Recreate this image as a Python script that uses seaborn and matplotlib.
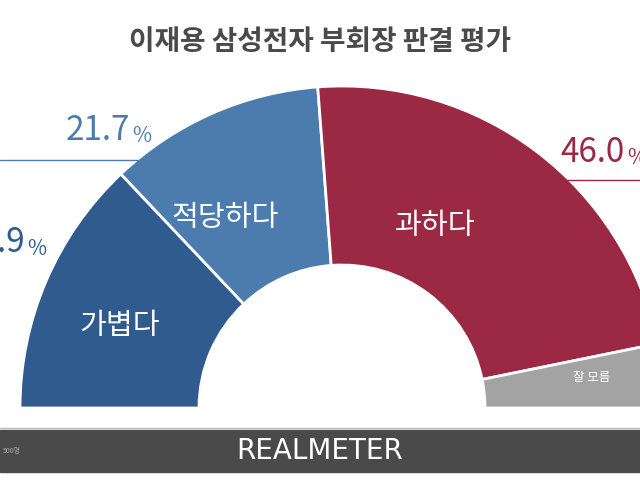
import matplotlib
matplotlib.use("Agg")
import matplotlib.pyplot as plt
import seaborn as sns
from matplotlib.patches import Rectangle

sns.set_theme(style="white")
plt.rcParams['font.family'] = ['Noto Sans CJK KR', 'DejaVu Sans']

categories = ["가볍다", "적당하다", "과하다", "잘 모름"]
values = [25.9, 21.7, 46.0, 6.4]
pct_labels = ["25.9", "21.7", "46.0", ""]
colors = ["#2f5b8e", "#4b7cad", "#9b2944", "#a3a3a3"]

fig = plt.figure(figsize=(6.4, 4.8), dpi=100)
ax = fig.add_axes([0, 0, 1, 1])
cx, cy, R = 342, 408, 322
wedges, _ = ax.pie(values + [sum(values)], colors=colors + ["none"], startangle=180,
                   counterclock=True, center=(cx, cy), radius=R,
                   wedgeprops=dict(width=R - 143, edgecolor="white", linewidth=2))
wedges[-1].set_visible(False)
ax.set_xlim(0, 640); ax.set_ylim(480, 0); ax.set_aspect("auto")
ax.axis("off")

# inside labels
inner = [(120, 326, 21), (225, 218, 21), (435, 226, 21), (592, 378, 9)]
for (x, y, fs), c in zip(inner, categories):
    ax.text(x, y, c, color="white", fontsize=fs, ha="center", va="center")

# percent labels
ax.text(130, 130, pct_labels[1], color="#4b7cad", fontsize=24, ha="right", va="center")
ax.text(132, 136, "%", color="#4b7cad", fontsize=15, ha="left", va="center")
ax.plot([0, 200], [160, 160], color="#4b7cad", lw=1)
ax.text(25, 243, pct_labels[0], color="#2f5b8e", fontsize=24, ha="right", va="center")
ax.text(27, 249, "%", color="#2f5b8e", fontsize=15, ha="left", va="center")
ax.text(625, 152, pct_labels[2], color="#9b2944", fontsize=24, ha="right", va="center")
ax.text(627, 158, "%", color="#9b2944", fontsize=15, ha="left", va="center")
ax.plot([540, 640], [180, 180], color="#9b2944", lw=1)

# title
ax.text(320, 42, "이재용 삼성전자 부회장 판결 평가", color="#4a4a4a", fontsize=20,
        fontweight="bold", ha="center", va="center")

# bottom bar
ax.add_patch(Rectangle((0, 430), 640, 42, color="#4a4a4a"))
ax.plot([0, 640], [428, 428], color="#bbbbbb", lw=1)
ax.text(320, 451, "REALMETER", color="white", fontsize=20, ha="center", va="center",
        family="Liberation Sans Narrow")
ax.text(3, 451, "500명", color="#aaaaaa", fontsize=5, ha="left", va="center")

fig.savefig("out.png", dpi=100)
